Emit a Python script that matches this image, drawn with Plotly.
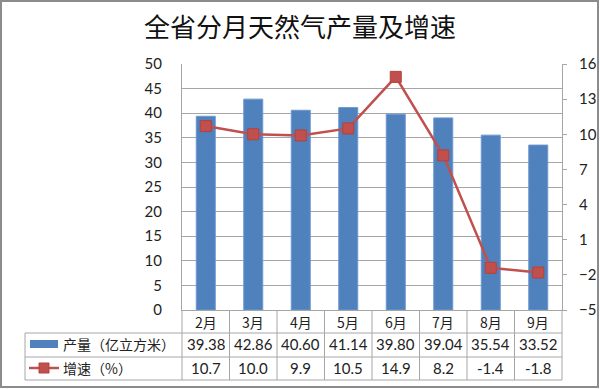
import plotly.graph_objects as go

months = ["2月", "3月", "4月", "5月", "6月", "7月", "8月", "9月"]
output = [39.38, 42.86, 40.60, 41.14, 39.80, 39.04, 35.54, 33.52]
growth = [10.7, 10.0, 9.9, 10.5, 14.9, 8.2, -1.4, -1.8]
title = "全省分月天然气产量及增速"
name_output = "产量（亿立方米）"
name_growth = "增速（%）"

W, H = 600, 389
L, R, T, B = 182, 562, 64, 310
PW, PH = R - L, B - T

def xp(px):
    return (px - L) / PW

def yp(py):
    return (B - py) / PH

BLUE = "#4F81BD"
RED = "#C0504D"
GRID = "#A6A6A6"
TBL = "#A6A6A6"
NUMF = "Lato, Liberation Sans, sans-serif"
CJKF = "Noto Sans CJK SC, sans-serif"

fig = go.Figure()
fig.add_trace(go.Bar(x=months, y=output, name=name_output, width=0.4,
                     marker=dict(color=BLUE, line=dict(color="#6C97CF", width=1)),
                     yaxis="y"))
fig.add_trace(go.Scatter(x=months, y=growth, name=name_growth, mode="lines+markers",
                         line=dict(color=RED, width=2.5),
                         marker=dict(symbol="square", size=11, color=RED,
                                     line=dict(color="#B5403D", width=1)),
                         yaxis="y2"))

shapes = []
ann = []
# outer border
shapes.append(dict(type="rect", xref="paper", yref="paper",
                   x0=xp(1), x1=xp(W - 2), y0=yp(H - 2), y1=yp(1),
                   line=dict(color="#8C8C8C", width=2), layer="below"))
# table horizontal lines
for py in [333, 357, 380]:
    shapes.append(dict(type="line", xref="paper", yref="paper",
                       x0=xp(25), x1=xp(R), y0=yp(py), y1=yp(py),
                       line=dict(color=TBL, width=1)))
# left edge of label column
shapes.append(dict(type="line", xref="paper", yref="paper",
                   x0=xp(25), x1=xp(25), y0=yp(333), y1=yp(380),
                   line=dict(color=TBL, width=1)))
# column separators
n = len(months)
for i in range(n + 1):
    shapes.append(dict(type="line", xref="paper", yref="paper",
                       x0=i / n, x1=i / n, y0=yp(B), y1=yp(380),
                       line=dict(color=TBL, width=1)))
# legend keys
shapes.append(dict(type="rect", xref="paper", yref="paper",
                   x0=xp(30), x1=xp(58), y0=yp(348), y1=yp(340),
                   fillcolor=BLUE, line=dict(width=0)))
shapes.append(dict(type="line", xref="paper", yref="paper",
                   x0=xp(29), x1=xp(59), y0=yp(368), y1=yp(368),
                   line=dict(color=RED, width=2.5)))
shapes.append(dict(type="rect", xref="paper", yref="paper",
                   x0=xp(39), x1=xp(49), y0=yp(373), y1=yp(363),
                   fillcolor=RED, line=dict(color="#B5403D", width=1)))

ann.append(dict(xref="paper", yref="paper", x=xp(61), y=yp(344), text=name_output,
                showarrow=False, xanchor="left", yanchor="middle",
                font=dict(family=CJKF, size=14, color="#222")))
ann.append(dict(xref="paper", yref="paper", x=xp(61), y=yp(368), text=name_growth,
                showarrow=False, xanchor="left", yanchor="middle",
                font=dict(family=CJKF, size=14, color="#222")))
for i, m in enumerate(months):
    cx = (i + 0.5) / n
    ann.append(dict(xref="paper", yref="paper", x=cx, y=yp(321.5), text=m,
                    showarrow=False, xanchor="center", yanchor="middle",
                    font=dict(family=CJKF, size=14, color="#222")))
    ann.append(dict(xref="paper", yref="paper", x=cx, y=yp(344), text=f"{output[i]:.2f}",
                    showarrow=False, xanchor="center", yanchor="middle",
                    font=dict(family=NUMF, size=15, color="#222")))
    ann.append(dict(xref="paper", yref="paper", x=cx, y=yp(368), text=f"{growth[i]:.1f}",
                    showarrow=False, xanchor="center", yanchor="middle",
                    font=dict(family=NUMF, size=15, color="#222")))

fig.update_layout(
    width=W, height=H,
    margin=dict(l=L, r=W - R, t=T, b=H - B, pad=0, autoexpand=False),
    paper_bgcolor="white", plot_bgcolor="white",
    showlegend=False,
    title=dict(text=title, x=0.5, xanchor="center", y=1 - 28 / H, yanchor="middle",
               font=dict(family=CJKF, size=26, color="#111")),
    xaxis=dict(type="category", categoryorder="array", categoryarray=months,
               range=[-0.5, n - 0.5], showticklabels=False, ticks="", automargin=False,
               showline=True, linecolor=TBL, linewidth=1, showgrid=False, zeroline=False),
    yaxis=dict(range=[0, 50], dtick=5, tick0=0, showgrid=True, gridcolor=GRID, gridwidth=1,
               showline=True, linecolor=GRID, zeroline=False, ticks="", automargin=False,
               tickfont=dict(family=NUMF, size=15, color="#222"), ticklabelstandoff=16),
    yaxis2=dict(range=[-5, 16], dtick=3, tick0=-5, overlaying="y", side="right",
                showgrid=False, zeroline=False, showline=True, linecolor=GRID,
                ticks="outside", ticklen=4, tickcolor=GRID, automargin=False,
                tickfont=dict(family=NUMF, size=15, color="#222"), ticklabelstandoff=9),
    shapes=shapes, annotations=ann,
    bargap=0.6,
)

fig.write_html("out.html", config={"displayModeBar": False},
               post_script="document.body.style.margin='0';document.documentElement.style.overflow='hidden';document.body.style.overflow='hidden';")
